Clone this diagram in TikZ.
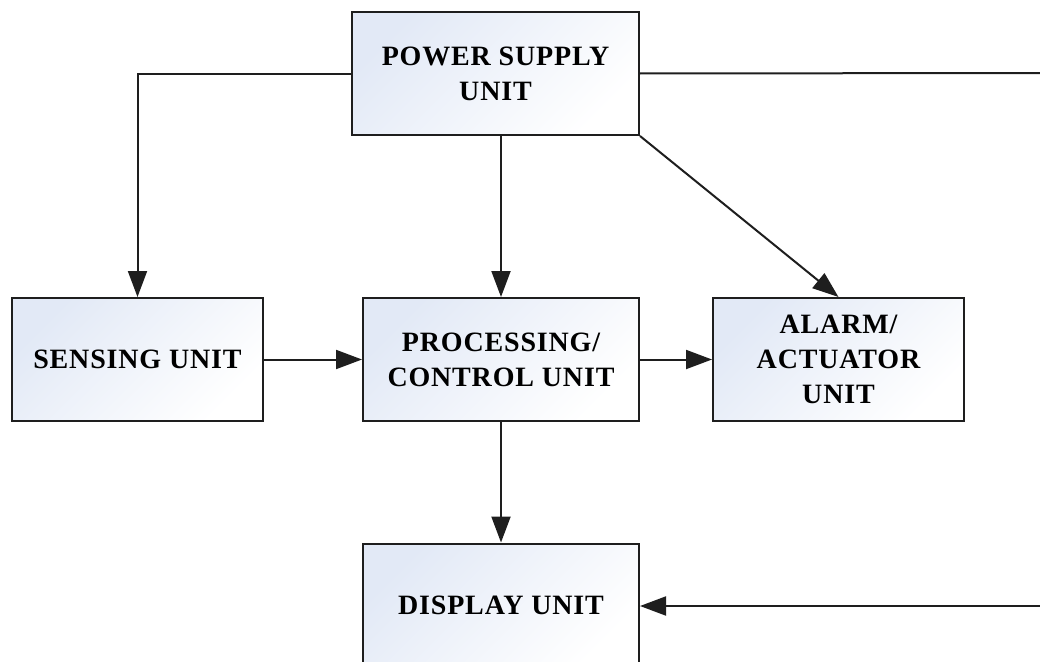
\documentclass[tikz,border=0pt]{standalone}
\usepackage{fontspec}
\setmainfont{Liberation Serif}[LetterSpace=3]
\usetikzlibrary{arrows.meta}
\definecolor{boxblue}{HTML}{E2E9F6}
\definecolor{ink}{HTML}{1E1E1E}
\begin{document}
\begin{tikzpicture}[x=1pt,y=1pt,
  unitbox/.style={draw=ink, line width=2pt, minimum height=123pt, align=center,
    top color=boxblue, bottom color=white, shading angle=45,
    font=\fontsize{28}{35}\selectfont\bfseries, text=black, inner sep=0pt},
  conn/.style={draw=ink, line width=2pt},
  arr/.style={conn, -{Triangle[length=26pt,width=19pt]}}]
\useasboundingbox (0,0) rectangle (1040,-661);
\clip (0,0) rectangle (1040,-661);
\node[unitbox, minimum width=287pt] (power) at (495.5,-73.5) {POWER SUPPLY\\UNIT};
\node[unitbox, minimum width=251pt] (sensing) at (137.5,-359.5) {SENSING UNIT};
\node[unitbox, minimum width=276pt] (proc) at (501,-359.5) {PROCESSING/\\CONTROL UNIT};
\node[unitbox, minimum width=251pt] (alarm) at (838.5,-359.5) {ALARM/\\ACTUATOR\\UNIT};
\node[unitbox, minimum width=276pt] (display) at (501,-605) {DISPLAY UNIT};
\coordinate (edgeA) at (1045,-73);
\coordinate (edgeB) at (1045,-606);
\draw[arr] (power.west) -| (sensing.north);
\draw[arr] (proc.north |- power.south) -- (proc.north);
\draw[arr] (power.south east) -- (alarm.north);
\draw[conn] (power.east) -- (edgeA);
\draw[arr] (sensing.east) -- (proc.west);
\draw[arr] (proc.east) -- (alarm.west);
\draw[arr] (proc.south) -- (display.north);
\draw[arr] (edgeB) -- (display.east |- edgeB);
\end{tikzpicture}
\end{document}
